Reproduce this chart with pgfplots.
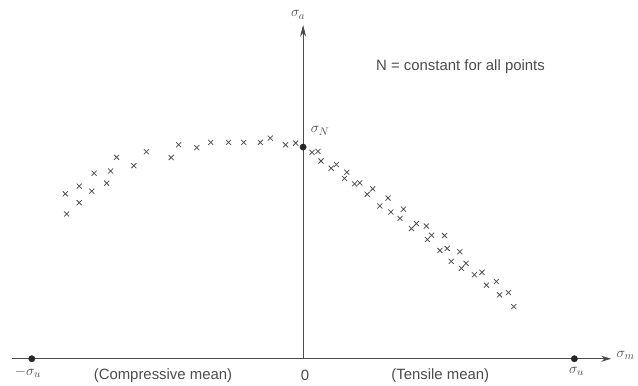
\documentclass[border=0pt]{standalone}
\usepackage{pgfplots}
\pgfplotsset{compat=1.18}
\usepackage{fontspec}
\setmainfont{Liberation Sans}
\usetikzlibrary{arrows.meta}

\definecolor{ink}{RGB}{75,75,75}

% Fatigue data at constant life: alternating stress vs mean stress
\pgfplotstableread{
x y
-239.3 166
-238 145.7
-225.3 173.7
-225.3 157
-212.7 168.7
-210.3 186.7
-197.7 176.7
-193.7 189
-187.7 202.7
-170.3 194.3
-157.7 208.3
-132.7 202.5
-125.3 215.3
-107 212.5
-93 217.7
-75 217.7
-59.7 217.7
-43 217.7
-33 222
-17.7 215.3
-7.5 217
}\compressive

\pgfplotstableread{
x y
9 207.7
15 208.7
18 199
28.3 191.7
33.5 195.5
44 187.7
41.7 181.5
51.7 176
57 177
64.5 165.5
70 171
77.3 153.7
85.5 161.7
88.3 147.7
97.5 141.3
101 150.5
109 131
114 136
124 133.5
125 120
129.3 124.3
142.3 124
137.7 109
145 111
157.7 107.7
149 98
159.3 91
164 96
172.3 84.5
180 87
184.5 74
194.5 77.7
197.7 64.3
206.7 66.5
212 52.5
}\tensile

\begin{document}
\begin{tikzpicture}
\begin{axis}[
  x=1pt, y=1pt,
  xmin=-293, xmax=310, ymin=0, ymax=336,
  axis lines=middle,
  axis line style={ink, line width=0.8pt},
  x axis line style={-{Stealth[length=10pt,width=6pt]}},
  y axis line style={-{Stealth[length=12pt,width=6pt]}},
  xtick=\empty, ytick=\empty,
  clip=false,
  font=\fontsize{15}{18}\selectfont,
]
\addplot[only marks, mark=x, mark size=3.6pt, ink, mark options={line width=0.75pt}] table {\compressive};
\addplot[only marks, mark=x, mark size=3.6pt, ink, mark options={line width=0.75pt}] table {\tensile};
% ultimate strengths and the fully reversed endurance value
\addplot[only marks, mark=*, mark size=3.2pt, black!85] coordinates {(-273,0) (273,0) (0,213)};

\node[ink] at (axis cs:-5,346) {$\sigma_a$};
\node[ink, anchor=west] at (axis cs:70,294) {N = constant for all points};
\node[ink] at (axis cs:17,229) {$\sigma_N$};
\node[ink] at (axis cs:-277,-14) {$-\sigma_u$};
\node[ink] at (axis cs:-141,-17) {(Compressive mean)};
\node[ink] at (axis cs:2,-17) {0};
\node[ink] at (axis cs:138,-17) {(Tensile mean)};
\node[ink] at (axis cs:275,-13) {$\sigma_u$};
\node[ink, anchor=west] at (axis cs:312,3) {$\sigma_m$};
\path (axis cs:-305,-27) (axis cs:333,361);
\end{axis}
\end{tikzpicture}
\end{document}
